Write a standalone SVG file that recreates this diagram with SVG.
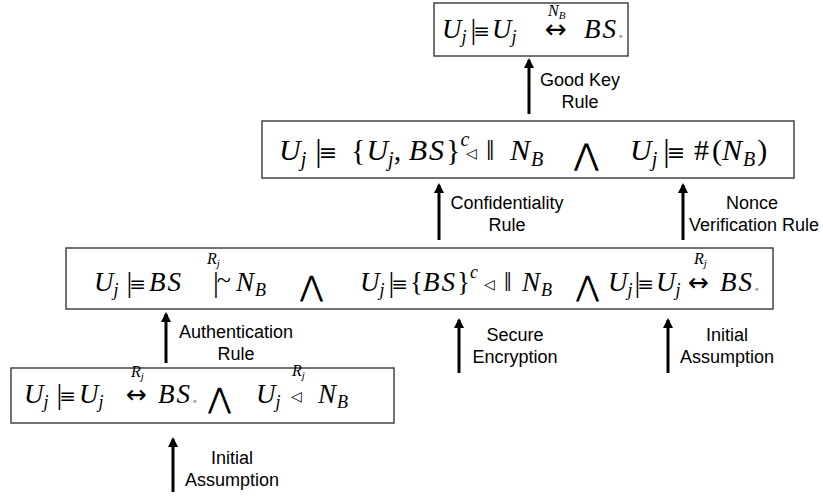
<svg xmlns="http://www.w3.org/2000/svg" width="823" height="497" viewBox="0 0 823 497">
<style>
.bx{fill:#fff;stroke:#444;stroke-width:1.5}
.m{font-family:"Liberation Serif","DejaVu Serif",serif;font-style:italic;fill:#000}
.n{font-family:"Liberation Serif","DejaVu Serif",serif;font-style:normal;fill:#000}
.sb{font-size:18px}
.sb2{font-size:20px}
.eq{font-family:"DejaVu Serif",serif;font-style:normal}
.arw{font-family:"DejaVu Sans",sans-serif;font-style:normal;fill:#000}
.ov{font-family:"Liberation Serif","DejaVu Serif",serif;font-style:italic;font-size:16px;fill:#000}
.ovs{font-size:11px}
.and{font-family:"DejaVu Sans",sans-serif;fill:#000}
.tri{font-family:"DejaVu Sans",sans-serif;font-size:14px;fill:#000}
.dot{fill:#aaa}
.lb{font-family:"Liberation Sans",Arial,sans-serif;font-size:18px;text-anchor:middle;fill:#000}
.ar{stroke:#000;stroke-width:3;fill:none;marker-end:url(#ah)}
</style>
<defs>
<marker id="ah" markerWidth="10" markerHeight="10" refX="8" refY="5" orient="auto" markerUnits="userSpaceOnUse">
<path d="M0,0 L10,5 L0,10 z" fill="#000"/>
</marker>
</defs>

<g id="connectors">
<line class="ar" x1="529" y1="114" x2="529" y2="60"/>
<line class="ar" x1="439" y1="240" x2="439" y2="185"/>
<line class="ar" x1="683" y1="240" x2="683" y2="185"/>
<line class="ar" x1="166" y1="363" x2="166" y2="314"/>
<line class="ar" x1="459" y1="373" x2="459" y2="320"/>
<line class="ar" x1="668" y1="373" x2="668" y2="320"/>
<line class="ar" x1="173" y1="492" x2="173" y2="439"/>
<text class="lb" x="580" y="86">Good Key</text>
<text class="lb" x="580" y="108">Rule</text>
<text class="lb" x="507" y="209">Confidentiality</text>
<text class="lb" x="507" y="231">Rule</text>
<text class="lb" x="752" y="209">Nonce</text>
<text class="lb" x="754" y="231">Verification Rule</text>
<text class="lb" x="236" y="338">Authentication</text>
<text class="lb" x="236" y="360">Rule</text>
<text class="lb" x="515" y="341">Secure</text>
<text class="lb" x="515" y="363">Encryption</text>
<text class="lb" x="727" y="341">Initial</text>
<text class="lb" x="727" y="363">Assumption</text>
<text class="lb" x="232" y="464">Initial</text>
<text class="lb" x="232" y="486">Assumption</text>
</g>

<g id="goal" font-size="27">
<rect class="bx" x="434" y="3" width="194" height="53"/>
<text class="m" x="442" y="38">U<tspan class="sb" dy="5">j</tspan><tspan class="n" dy="-4" dx="4" font-size="29">|</tspan><tspan class="eq" dx="-3" dy="-1" font-size="20">≡</tspan><tspan dx="2" dy="0">U</tspan><tspan class="sb" dy="5">j</tspan></text>
<text class="ov" x="548" y="16">N<tspan class="ovs" dy="3">B</tspan></text>
<text class="arw" x="545" y="38" font-size="26">↔</text>
<text class="m" x="584" y="38" letter-spacing="2">BS<tspan class="dot">.</tspan></text>
</g>

<g id="step2" font-size="30">
<rect class="bx" x="262" y="121" width="532" height="57"/>
<text class="m" x="279" y="160">U<tspan class="sb2" dy="6">j</tspan><tspan class="n" dy="-5" dx="9" font-size="32">|</tspan><tspan class="eq" dx="-3" dy="-1" font-size="22">≡</tspan></text>
<text class="n" x="351" y="160">{<tspan class="m" dx="1">U</tspan><tspan class="m sb2" dy="6">j</tspan><tspan dy="-6">, </tspan><tspan class="m" letter-spacing="2">BS</tspan>}<tspan class="m sb2" dy="-14">c</tspan></text>
<text class="tri" x="466" y="158" font-size="15">◁</text>
<text class="n" x="486" y="160">‖</text>
<text class="m" x="510" y="160" letter-spacing="1">N<tspan class="sb2" dy="6">B</tspan></text>
<text class="and" x="574" y="165" font-size="30">⋀</text>
<text class="m" x="630" y="160">U<tspan class="sb2" dy="6">j</tspan><tspan class="n" dy="-5" dx="6" font-size="32">|</tspan><tspan class="eq" dx="-3" dy="-1" font-size="22">≡</tspan></text>
<text class="n" x="694" y="160">#<tspan dx="3">(</tspan><tspan class="m" letter-spacing="1">N</tspan><tspan class="m sb2" dy="6">B</tspan><tspan dy="-6" dx="2">)</tspan></text>
</g>

<g id="step3" font-size="27">
<rect class="bx" x="66" y="248" width="707" height="61"/>
<text class="m" x="94" y="291">U<tspan class="sb" dy="5">j</tspan><tspan class="n" dy="-4" dx="8" font-size="29">|</tspan><tspan class="eq" dx="-3" dy="-1" font-size="20">≡</tspan><tspan dx="3" dy="0" letter-spacing="2">BS</tspan></text>
<text class="ov" x="207" y="264">R<tspan class="ovs" dy="3">j</tspan></text>
<text class="n" x="213" y="292" font-size="29">|<tspan dx="-2" dy="-4" font-size="26">~</tspan></text>
<text class="m" x="236" y="291" letter-spacing="1">N<tspan class="sb" dy="5">B</tspan></text>
<text class="and" x="300" y="296" font-size="28">⋀</text>
<text class="m" x="360" y="291">U<tspan class="sb" dy="5">j</tspan><tspan class="n" dy="-4" dx="4" font-size="29">|</tspan><tspan class="eq" dx="-3" dy="-1" font-size="20">≡</tspan><tspan class="n" dx="2" dy="0">{</tspan><tspan letter-spacing="2">BS</tspan><tspan class="n">}</tspan><tspan class="sb" dy="-13">c</tspan></text>
<text class="tri" x="484" y="289">◁</text>
<text class="n" x="504" y="291">‖</text>
<text class="m" x="522" y="291" letter-spacing="1">N<tspan class="sb" dy="5">B</tspan></text>
<text class="and" x="576" y="296" font-size="28">⋀</text>
<text class="m" x="608" y="291">U<tspan class="sb" dy="5">j</tspan><tspan class="n" dy="-4" dx="2" font-size="29">|</tspan><tspan class="eq" dx="-3" dy="-1" font-size="20">≡</tspan><tspan dx="2" dy="0">U</tspan><tspan class="sb" dy="5">j</tspan></text>
<text class="ov" x="694" y="264">R<tspan class="ovs" dy="3">j</tspan></text>
<text class="arw" x="688" y="291" font-size="25">↔</text>
<text class="m" x="720" y="291" letter-spacing="2">BS<tspan class="dot">.</tspan></text>
</g>

<g id="premise" font-size="27">
<rect class="bx" x="11" y="368" width="383" height="55"/>
<text class="m" x="24" y="403">U<tspan class="sb" dy="5">j</tspan><tspan class="n" dy="-4" dx="8" font-size="29">|</tspan><tspan class="eq" dx="-3" dy="-1" font-size="20">≡</tspan><tspan dx="3" dy="0">U</tspan><tspan class="sb" dy="5">j</tspan></text>
<text class="ov" x="131" y="377">R<tspan class="ovs" dy="3">j</tspan></text>
<text class="arw" x="126" y="403" font-size="25">↔</text>
<text class="m" x="158" y="403" letter-spacing="2">BS<tspan class="dot">.</tspan></text>
<text class="and" x="208" y="408" font-size="28">⋀</text>
<text class="m" x="256" y="403">U<tspan class="sb" dy="5">j</tspan></text>
<text class="ov" x="292" y="376">R<tspan class="ovs" dy="3">j</tspan></text>
<text class="tri" x="291" y="401">◁</text>
<text class="m" x="318" y="403" letter-spacing="1">N<tspan class="sb" dy="5">B</tspan></text>
</g>
</svg>
